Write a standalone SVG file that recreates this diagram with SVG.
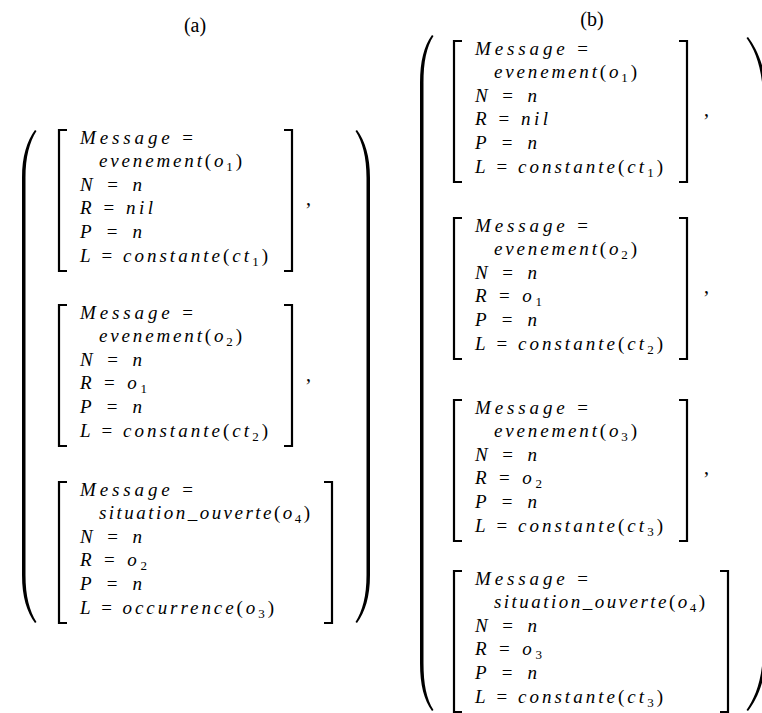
<svg xmlns="http://www.w3.org/2000/svg" width="762" height="713" viewBox="0 0 762 713">
<style>
  .bg { fill: #ffffff; }
  .t { font-family: "Times New Roman", "Liberation Serif", Tinos, "DejaVu Serif", serif; font-size: 19px; font-style: italic; fill: #000; }
  .u { font-style: normal; }
  .s { font-size: 13px; font-style: normal; }
  .lbl { font-family: "Times New Roman", "Liberation Serif", Tinos, "DejaVu Serif", serif; font-size: 20px; fill: #000; text-anchor: middle; }
  .cm { font-family: "Times New Roman", "Liberation Serif", Tinos, "DejaVu Serif", serif; font-size: 20px; fill: #000; }
  .br { fill: none; stroke: #000; stroke-width: 2.2; }
  .par { fill: #000; stroke: none; }
</style>
<rect class="bg" x="0" y="0" width="762" height="713"/>

<g id="labels">
  <text class="lbl" x="195" y="32">(a)</text>
  <text class="lbl" x="592" y="26">(b)</text>
</g>

<g id="delimiters">
  <path class="par" d="M35,130 C27,141 22,156 22,178 L22,575 C22,597 27,612 35,623 L36.5,622 C29.5,611 25.5,596 25.5,575 L25.5,178 C25.5,157 29.5,142 36.5,131 Z"/>
  <path class="par" transform="translate(392,0) scale(-1,1)" d="M35,130 C27,141 22,156 22,178 L22,575 C22,597 27,612 35,623 L36.5,622 C29.5,611 25.5,596 25.5,575 L25.5,178 C25.5,157 29.5,142 36.5,131 Z"/>
  <path class="par" d="M432,35 C424,46 420,61 420,83 L420,663 C420,685 424,700 432,711 L433.5,710 C426.5,699 423.5,684 423.5,663 L423.5,83 C423.5,62 426.5,47 433.5,36 Z"/>
  <path class="par" d="M748,37 C757,49 766.5,68 766.5,100 L766.5,648 C766.5,680 757,699 748,711 L746.5,710 C755,698 763,679 763,648 L763,100 C763,69 755,50 746.5,38 Z"/>
  <text class="cm" x="306" y="205">,</text>
  <text class="cm" x="306" y="381">,</text>
  <text class="cm" x="704" y="116">,</text>
  <text class="cm" x="704" y="293">,</text>
  <text class="cm" x="704" y="474">,</text>
</g>

<g id="connectors"></g>

<g id="a1" transform="translate(59,130)">
  <path class="br" d="M8,0 H0 V141 H8 M225,0 H233 V141 H225"/>
  <text class="t" x="21" y="14" textLength="113" lengthAdjust="spacing">Message<tspan class="u"> =</tspan></text>
  <text class="t" x="40" y="37" textLength="143" lengthAdjust="spacing">evenement<tspan class="u">(</tspan>o<tspan class="s" dy="4">1</tspan><tspan class="u" dy="-4">)</tspan></text>
  <text class="t" x="21" y="61" textLength="62" lengthAdjust="spacing">N<tspan class="u"> = </tspan>n</text>
  <text class="t" x="21" y="84" textLength="73" lengthAdjust="spacing">R<tspan class="u"> = </tspan>nil</text>
  <text class="t" x="21" y="108" textLength="62" lengthAdjust="spacing">P<tspan class="u"> = </tspan>n</text>
  <text class="t" x="21" y="132" textLength="188" lengthAdjust="spacing">L<tspan class="u"> = </tspan>constante<tspan class="u">(</tspan>ct<tspan class="s" dy="4">1</tspan><tspan class="u" dy="-4">)</tspan></text>
</g>

<g id="a2" transform="translate(59,305)">
  <path class="br" d="M8,0 H0 V141 H8 M225,0 H233 V141 H225"/>
  <text class="t" x="21" y="14" textLength="113" lengthAdjust="spacing">Message<tspan class="u"> =</tspan></text>
  <text class="t" x="40" y="37" textLength="143" lengthAdjust="spacing">evenement<tspan class="u">(</tspan>o<tspan class="s" dy="4">2</tspan><tspan class="u" dy="-4">)</tspan></text>
  <text class="t" x="21" y="61" textLength="62" lengthAdjust="spacing">N<tspan class="u"> = </tspan>n</text>
  <text class="t" x="21" y="84" textLength="67" lengthAdjust="spacing">R<tspan class="u"> = </tspan>o<tspan class="s" dy="4">1</tspan></text>
  <text class="t" x="21" y="108" textLength="62" lengthAdjust="spacing">P<tspan class="u"> = </tspan>n</text>
  <text class="t" x="21" y="132" textLength="188" lengthAdjust="spacing">L<tspan class="u"> = </tspan>constante<tspan class="u">(</tspan>ct<tspan class="s" dy="4">2</tspan><tspan class="u" dy="-4">)</tspan></text>
</g>

<g id="a3" transform="translate(59,482)">
  <path class="br" d="M8,0 H0 V141 H8 M265,0 H273 V141 H265"/>
  <text class="t" x="21" y="14" textLength="113" lengthAdjust="spacing">Message<tspan class="u"> =</tspan></text>
  <text class="t" x="40" y="37" textLength="211" lengthAdjust="spacing">situation_ouverte<tspan class="u">(</tspan>o<tspan class="s" dy="4">4</tspan><tspan class="u" dy="-4">)</tspan></text>
  <text class="t" x="21" y="61" textLength="62" lengthAdjust="spacing">N<tspan class="u"> = </tspan>n</text>
  <text class="t" x="21" y="84" textLength="67" lengthAdjust="spacing">R<tspan class="u"> = </tspan>o<tspan class="s" dy="4">2</tspan></text>
  <text class="t" x="21" y="108" textLength="62" lengthAdjust="spacing">P<tspan class="u"> = </tspan>n</text>
  <text class="t" x="21" y="132" textLength="194" lengthAdjust="spacing">L<tspan class="u"> = </tspan>occurrence<tspan class="u">(</tspan>o<tspan class="s" dy="4">3</tspan><tspan class="u" dy="-4">)</tspan></text>
</g>

<g id="b1" transform="translate(454,41)">
  <path class="br" d="M8,0 H0 V141 H8 M225,0 H233 V141 H225"/>
  <text class="t" x="21" y="14" textLength="113" lengthAdjust="spacing">Message<tspan class="u"> =</tspan></text>
  <text class="t" x="40" y="37" textLength="143" lengthAdjust="spacing">evenement<tspan class="u">(</tspan>o<tspan class="s" dy="4">1</tspan><tspan class="u" dy="-4">)</tspan></text>
  <text class="t" x="21" y="61" textLength="62" lengthAdjust="spacing">N<tspan class="u"> = </tspan>n</text>
  <text class="t" x="21" y="84" textLength="73" lengthAdjust="spacing">R<tspan class="u"> = </tspan>nil</text>
  <text class="t" x="21" y="108" textLength="62" lengthAdjust="spacing">P<tspan class="u"> = </tspan>n</text>
  <text class="t" x="21" y="132" textLength="188" lengthAdjust="spacing">L<tspan class="u"> = </tspan>constante<tspan class="u">(</tspan>ct<tspan class="s" dy="4">1</tspan><tspan class="u" dy="-4">)</tspan></text>
</g>

<g id="b2" transform="translate(454,218)">
  <path class="br" d="M8,0 H0 V141 H8 M225,0 H233 V141 H225"/>
  <text class="t" x="21" y="14" textLength="113" lengthAdjust="spacing">Message<tspan class="u"> =</tspan></text>
  <text class="t" x="40" y="37" textLength="143" lengthAdjust="spacing">evenement<tspan class="u">(</tspan>o<tspan class="s" dy="4">2</tspan><tspan class="u" dy="-4">)</tspan></text>
  <text class="t" x="21" y="61" textLength="62" lengthAdjust="spacing">N<tspan class="u"> = </tspan>n</text>
  <text class="t" x="21" y="84" textLength="67" lengthAdjust="spacing">R<tspan class="u"> = </tspan>o<tspan class="s" dy="4">1</tspan></text>
  <text class="t" x="21" y="108" textLength="62" lengthAdjust="spacing">P<tspan class="u"> = </tspan>n</text>
  <text class="t" x="21" y="132" textLength="188" lengthAdjust="spacing">L<tspan class="u"> = </tspan>constante<tspan class="u">(</tspan>ct<tspan class="s" dy="4">2</tspan><tspan class="u" dy="-4">)</tspan></text>
</g>

<g id="b3" transform="translate(454,400)">
  <path class="br" d="M8,0 H0 V141 H8 M225,0 H233 V141 H225"/>
  <text class="t" x="21" y="14" textLength="113" lengthAdjust="spacing">Message<tspan class="u"> =</tspan></text>
  <text class="t" x="40" y="37" textLength="143" lengthAdjust="spacing">evenement<tspan class="u">(</tspan>o<tspan class="s" dy="4">3</tspan><tspan class="u" dy="-4">)</tspan></text>
  <text class="t" x="21" y="61" textLength="62" lengthAdjust="spacing">N<tspan class="u"> = </tspan>n</text>
  <text class="t" x="21" y="84" textLength="67" lengthAdjust="spacing">R<tspan class="u"> = </tspan>o<tspan class="s" dy="4">2</tspan></text>
  <text class="t" x="21" y="108" textLength="62" lengthAdjust="spacing">P<tspan class="u"> = </tspan>n</text>
  <text class="t" x="21" y="132" textLength="188" lengthAdjust="spacing">L<tspan class="u"> = </tspan>constante<tspan class="u">(</tspan>ct<tspan class="s" dy="4">3</tspan><tspan class="u" dy="-4">)</tspan></text>
</g>

<g id="b4" transform="translate(454,571)">
  <path class="br" d="M8,0 H0 V141 H8 M266,0 H274 V141 H266"/>
  <text class="t" x="21" y="14" textLength="113" lengthAdjust="spacing">Message<tspan class="u"> =</tspan></text>
  <text class="t" x="40" y="37" textLength="211" lengthAdjust="spacing">situation_ouverte<tspan class="u">(</tspan>o<tspan class="s" dy="4">4</tspan><tspan class="u" dy="-4">)</tspan></text>
  <text class="t" x="21" y="61" textLength="62" lengthAdjust="spacing">N<tspan class="u"> = </tspan>n</text>
  <text class="t" x="21" y="84" textLength="67" lengthAdjust="spacing">R<tspan class="u"> = </tspan>o<tspan class="s" dy="4">3</tspan></text>
  <text class="t" x="21" y="108" textLength="62" lengthAdjust="spacing">P<tspan class="u"> = </tspan>n</text>
  <text class="t" x="21" y="132" textLength="188" lengthAdjust="spacing">L<tspan class="u"> = </tspan>constante<tspan class="u">(</tspan>ct<tspan class="s" dy="4">3</tspan><tspan class="u" dy="-4">)</tspan></text>
</g>
</svg>
